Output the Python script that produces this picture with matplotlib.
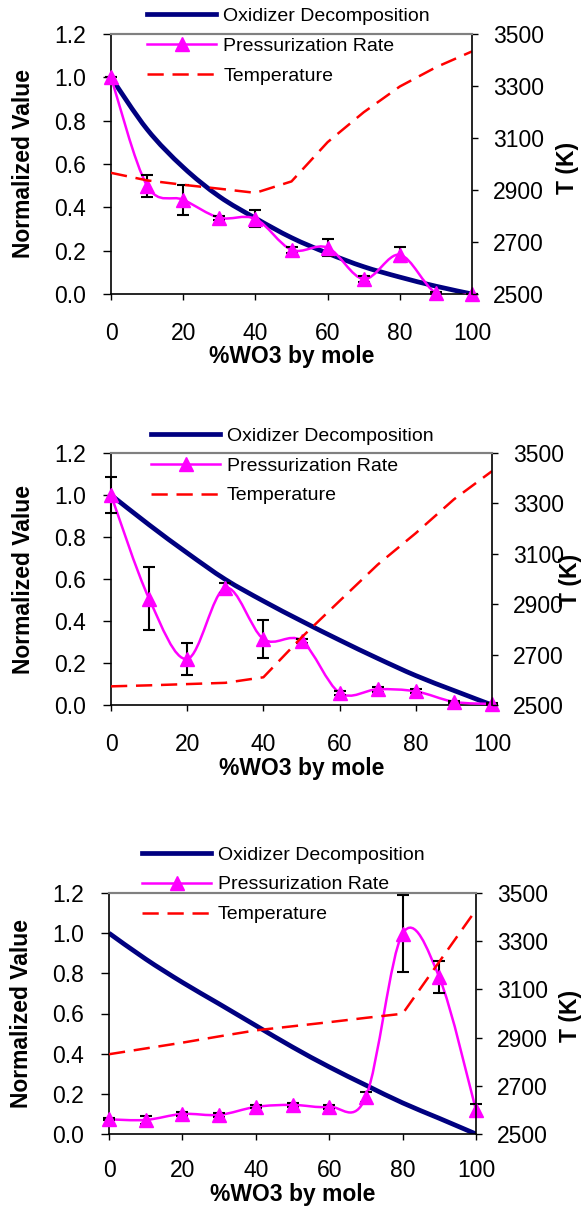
import numpy as np
import matplotlib
matplotlib.use("Agg")
import matplotlib.pyplot as plt
from matplotlib.path import Path
from matplotlib.patches import PathPatch
from matplotlib.lines import Line2D
from matplotlib.ticker import FormatStrFormatter

plt.rcParams["font.family"] = ["Liberation Sans", "DejaVu Sans"]

# %WO3 by mole
wo3 = [0, 10, 20, 30, 40, 50, 60, 70, 80, 90, 100]

# panel 1
ox1 = [1.0, 0.76, 0.585, 0.45, 0.35, 0.26, 0.188, 0.126, 0.078, 0.036, 0.0]
pr1 = [1.0, 0.50, 0.435, 0.352, 0.347, 0.204, 0.214, 0.069, 0.181, 0.005, 0.0]
err1 = [0.0, 0.05, 0.07, 0.01, 0.04, 0.015, 0.04, 0.015, 0.035, 0.005, 0.0]
temp1 = [2966, 2937, 2920, 2905, 2889, 2933, 3084, 3199, 3298, 3372, 3433]

# panel 2
ox2 = [1.0, 0.858, 0.724, 0.598, 0.495, 0.40, 0.309, 0.222, 0.14, 0.069, 0.0]
pr2 = [1.0, 0.506, 0.219, 0.558, 0.314, 0.306, 0.058, 0.075, 0.065, 0.015, 0.005]
err2 = [0.087, 0.15, 0.077, 0.025, 0.09, 0.01, 0.01, 0.012, 0.01, 0.005, 0.005]
temp2 = [2574, 2578, 2583, 2588, 2610, 2768, 2913, 3057, 3182, 3316, 3428]

# panel 3
ox3 = [1.0, 0.871, 0.755, 0.648, 0.540, 0.433, 0.334, 0.243, 0.155, 0.078, 0.0]
pr3 = [0.073, 0.07, 0.10, 0.095, 0.135, 0.145, 0.135, 0.185, 0.998, 0.78, 0.119]
err3 = [0.005, 0.02, 0.01, 0.008, 0.008, 0.01, 0.01, 0.025, 0.19, 0.08, 0.03]
temp3 = [2831, 2855, 2879, 2905, 2930, 2947, 2964, 2982, 2999, 3215, 3430]

labels = ["Oxidizer Decomposition", "Pressurization Rate", "Temperature"]
x_ticks = [0, 20, 40, 60, 80, 100]
norm_ticks = [0.0, 0.2, 0.4, 0.6, 0.8, 1.0, 1.2]
t_ticks = [2500, 2700, 2900, 3100, 3300, 3500]

W, H = 584, 1206
NAVY = "#000080"
MAG = "#FF00FF"
RED = "#FF0000"
FS = 16.5


def smooth_path(xs, ys):
    # Excel style smoothed line: cubic bezier through the points
    pts = np.column_stack([xs, ys]).astype(float)
    n = len(pts)
    verts = [pts[0]]
    codes = [Path.MOVETO]
    for i in range(n - 1):
        p0 = pts[max(i - 1, 0)]
        p1 = pts[i]
        p2 = pts[i + 1]
        p3 = pts[min(i + 2, n - 1)]
        verts += [p1 + (p2 - p0) / 6, p2 - (p3 - p1) / 6, p2]
        codes += [Path.CURVE4] * 3
    return Path(verts, codes)


def draw_panel(box, ox, pr, err, temp, leg_xy, ylab_x, tlab_xy, xlab_y,
               xpad=16):
    l, t, r, b = box
    ax = fig.add_axes([l / W, 1 - b / H, (r - l) / W, (b - t) / H])
    ax2 = ax.twinx()

    ax.add_patch(PathPatch(smooth_path(wo3, ox), facecolor="none",
                           edgecolor=NAVY, lw=3.4, zorder=2))
    ax.add_patch(PathPatch(smooth_path(wo3, pr), facecolor="none",
                           edgecolor=MAG, lw=1.8, zorder=3))
    ax.errorbar(wo3, pr, yerr=err, fmt="none", ecolor="black",
                elinewidth=1.5, capsize=4.3, capthick=1.5, zorder=4,
                clip_on=False)
    ax.plot(wo3, pr, ls="none", marker="^", ms=10, color=MAG,
            zorder=5, clip_on=False)
    ax2.plot(wo3, temp, color=RED, lw=1.8, dashes=(6.5, 3.5))

    ax.set_xlim(0, 100)
    ax.set_ylim(0, 1.2)
    ax2.set_ylim(2500, 3500)
    ax.set_xticks(x_ticks)
    ax.set_yticks(norm_ticks)
    ax2.set_yticks(t_ticks)
    ax.yaxis.set_major_formatter(FormatStrFormatter("%.1f"))

    ax.tick_params(axis="y", direction="out", length=5.8, width=1,
                   labelsize=FS, pad=12)
    ax.tick_params(axis="x", direction="out", length=4.3, width=1,
                   labelsize=FS, pad=xpad)
    ax2.tick_params(axis="y", direction="out", length=4.3, width=1,
                    labelsize=FS, pad=10.8)

    for a in (ax, ax2):
        a.spines["top"].set_color("#808080")
        a.spines["top"].set_linewidth(1.5)
        for s in ("left", "right", "bottom"):
            a.spines[s].set_color("black")
            a.spines[s].set_linewidth(1.2)
    ax2.spines["left"].set_visible(False)
    ax2.spines["bottom"].set_visible(False)
    ax.spines["right"].set_visible(False)

    ax.set_xlabel("%WO3 by mole", fontsize=FS, fontweight="bold")
    ax.xaxis.set_label_coords(0.5, (b - xlab_y) / (b - t))
    ax.xaxis.label.set_va("center")
    ax.set_ylabel("Normalized Value", fontsize=FS, fontweight="bold")
    ax.yaxis.set_label_coords((ylab_x - l) / (r - l), 0.5)
    ax.yaxis.label.set_va("center")
    ax.yaxis.label.set_ha("center")
    ax2.set_ylabel("T (K)", fontsize=FS, fontweight="bold", rotation=90)
    ax2.yaxis.set_label_coords((tlab_xy[0] - l) / (r - l),
                               (b - tlab_xy[1]) / (b - t))
    ax2.yaxis.label.set_va("center")
    ax2.yaxis.label.set_ha("center")

    handles = [
        Line2D([], [], color=NAVY, lw=3.4),
        Line2D([], [], color=MAG, lw=1.8, marker="^", ms=10),
        Line2D([], [], color=RED, lw=1.8, dashes=(6.5, 3.5)),
    ]
    ax2.legend(handles, labels, loc="upper left", bbox_to_anchor=leg_xy,
               frameon=False, fontsize=14, borderpad=0, borderaxespad=0,
               handlelength=3.55, handletextpad=0.36, labelspacing=0.63)


fig = plt.figure(figsize=(W / 100, H / 100), dpi=100)

draw_panel((111, 34, 472, 294), ox1, pr1, err1, temp1,
           (0.101, 1.103), 24, (567.5, 168), 356)
draw_panel((111, 453, 492, 705), ox2, pr2, err2, temp2,
           (0.105, 1.103), 24, (571, 580), 768)
draw_panel((109, 893, 476, 1134), ox3, pr3, err3, temp3,
           (0.09, 1.195), 22, (570, 1016), 1195, xpad=14)

fig.savefig("out.png", dpi=100)
